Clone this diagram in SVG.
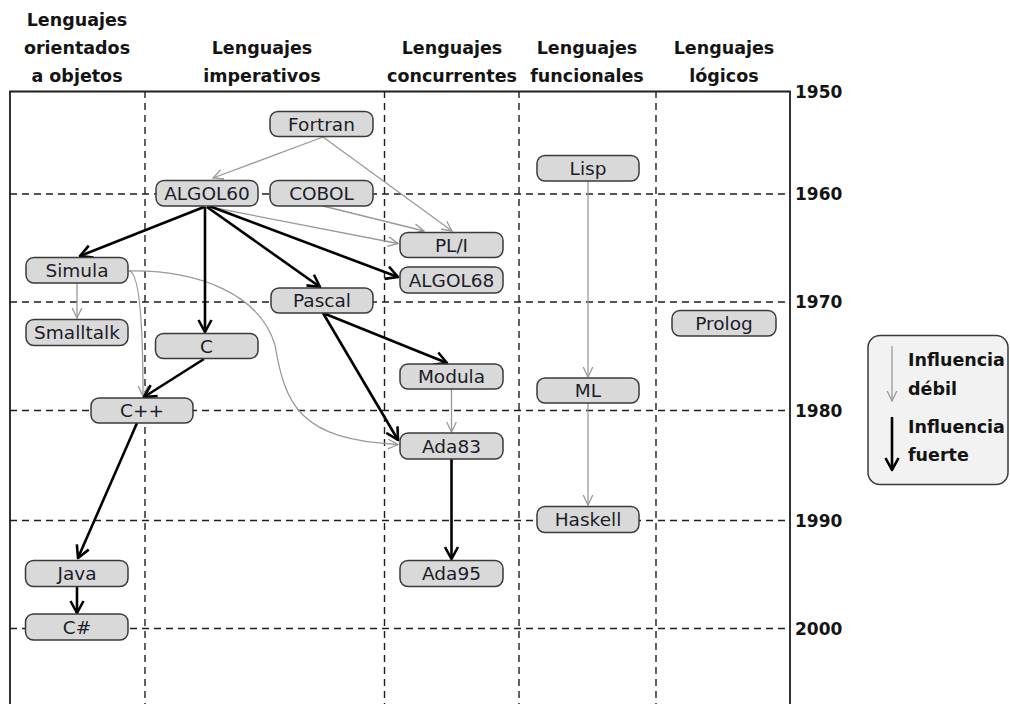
<svg xmlns="http://www.w3.org/2000/svg" width="1010" height="704" viewBox="0 0 1010 704">
  <style>
    .frame { stroke: #1e1e1e; stroke-width: 1.8; fill: none; }
    .grid { stroke: #1e1e1e; stroke-width: 1.4; stroke-dasharray: 7 5; fill: none; }
    .head { font-family: "DejaVu Sans", sans-serif; font-weight: bold; font-size: 17.5px; fill: #141414; text-anchor: middle; }
    .year { font-family: "DejaVu Sans", sans-serif; font-weight: bold; font-size: 17px; fill: #141414; }
    .box { fill: #d9d9d9; stroke: #3a3a3a; stroke-width: 1.5; }
    .lbl { font-family: "DejaVu Sans", sans-serif; font-size: 18.5px; fill: #1c1c2a; text-anchor: middle; }
    .weak { stroke: #999999; stroke-width: 1.3; fill: none; marker-end: url(#headWeak); }
    .strong { stroke: #000000; stroke-width: 2.6; fill: none; marker-end: url(#headStrong); }
    .legbox { fill: #f2f2f2; stroke: #3a3a3a; stroke-width: 1.5; }
    .legtxt { font-family: "DejaVu Sans", sans-serif; font-weight: bold; font-size: 17.5px; fill: #141414; }
  </style>
  <defs>
    <marker id="headWeak" markerUnits="userSpaceOnUse" viewBox="0 0 12 12" refX="11" refY="6" markerWidth="12" markerHeight="12" orient="auto">
      <path d="M1,1.2 L11,6 L1,10.8" fill="none" stroke="#999999" stroke-width="1.3"/>
    </marker>
    <marker id="headStrong" markerUnits="userSpaceOnUse" viewBox="0 0 16 16" refX="14" refY="8" markerWidth="16" markerHeight="16" orient="auto">
      <path d="M2,1.5 L14,8 L2,14.5" fill="none" stroke="#000000" stroke-width="2.6" stroke-linejoin="round"/>
    </marker>
  </defs>

  <rect width="1010" height="704" fill="#ffffff"/>

  <!-- column headings -->
  <g id="headings">
    <text class="head" x="77" y="26">Lenguajes</text>
    <text class="head" x="77" y="54">orientados</text>
    <text class="head" x="77" y="82">a objetos</text>
    <text class="head" x="262" y="54">Lenguajes</text>
    <text class="head" x="262" y="82">imperativos</text>
    <text class="head" x="452" y="54">Lenguajes</text>
    <text class="head" x="452" y="82">concurrentes</text>
    <text class="head" x="587" y="54">Lenguajes</text>
    <text class="head" x="587" y="82">funcionales</text>
    <text class="head" x="724" y="54">Lenguajes</text>
    <text class="head" x="724" y="82">lógicos</text>
  </g>

  <!-- grid: decades and paradigm columns -->
  <g id="grid">
    <line class="grid" x1="10" y1="194" x2="790" y2="194"/>
    <line class="grid" x1="10" y1="302" x2="790" y2="302"/>
    <line class="grid" x1="10" y1="410.5" x2="790" y2="410.5"/>
    <line class="grid" x1="10" y1="520.5" x2="790" y2="520.5"/>
    <line class="grid" x1="10" y1="628.5" x2="790" y2="628.5"/>
    <line class="grid" x1="145" y1="91" x2="145" y2="704"/>
    <line class="grid" x1="384.5" y1="91" x2="384.5" y2="704"/>
    <line class="grid" x1="519" y1="91" x2="519" y2="704"/>
    <line class="grid" x1="656" y1="91" x2="656" y2="704"/>
    <polyline class="frame" points="10,704 10,91.5 790,91.5 790,704"/>
  </g>

  <!-- decade labels -->
  <g id="years">
    <text class="year" x="795" y="97.5">1950</text>
    <text class="year" x="795" y="200">1960</text>
    <text class="year" x="795" y="308">1970</text>
    <text class="year" x="795" y="416.5">1980</text>
    <text class="year" x="795" y="526.5">1990</text>
    <text class="year" x="795" y="634.5">2000</text>
  </g>

  <!-- influence connectors -->
  <g id="connectors">
    <path class="weak" d="M323,137 L213,178"/>
    <path class="weak" d="M323,137 L452,231"/>
    <path class="weak" d="M323,206 L424,231"/>
    <path class="weak" d="M210,207 L398,243.5"/>
    <path class="weak" d="M77,283 L77,318"/>
    <path class="weak" d="M129,271 Q143,272 143,396"/>
    <path class="weak" d="M129,271 C200,270 260,295 275,345 C285,405 300,440 398,444.5"/>
    <path class="weak" d="M451.5,389 L451.5,432"/>
    <path class="weak" d="M588,181 L588,377"/>
    <path class="weak" d="M588,403 L588,505"/>

    <path class="strong" d="M204,207 L80,256"/>
    <path class="strong" d="M205,207 L205,332"/>
    <path class="strong" d="M207,207 L320,287"/>
    <path class="strong" d="M209,206 L398,277"/>
    <path class="strong" d="M323,313 L447,363"/>
    <path class="strong" d="M323,313 L398,440"/>
    <path class="strong" d="M204,359 L144,397"/>
    <path class="strong" d="M137,423 L78,558"/>
    <path class="strong" d="M77,587 L77,613"/>
    <path class="strong" d="M451.5,459 L451.5,559"/>
  </g>

  <!-- language nodes -->
  <g id="fortran"><rect class="box" x="270" y="111.5" width="103" height="25" rx="8"/><text class="lbl" x="321.5" y="130.5">Fortran</text></g>
  <g id="algol60"><rect class="box" x="156" y="180.5" width="102" height="25.5" rx="8"/><text class="lbl" x="207" y="199.8">ALGOL60</text></g>
  <g id="cobol"><rect class="box" x="270" y="180.5" width="103" height="25.5" rx="8"/><text class="lbl" x="321.5" y="199.8">COBOL</text></g>
  <g id="pl1"><rect class="box" x="400" y="232.5" width="103" height="25" rx="8"/><text class="lbl" x="451.5" y="251.5">PL/I</text></g>
  <g id="algol68"><rect class="box" x="400" y="267" width="103" height="26" rx="8"/><text class="lbl" x="451.5" y="286.5">ALGOL68</text></g>
  <g id="simula"><rect class="box" x="26" y="257.5" width="102" height="25.5" rx="8"/><text class="lbl" x="77" y="276.8">Simula</text></g>
  <g id="smalltalk"><rect class="box" x="26" y="319.5" width="102" height="26" rx="8"/><text class="lbl" x="77" y="339">Smalltalk</text></g>
  <g id="pascal"><rect class="box" x="271" y="288" width="102" height="25" rx="8"/><text class="lbl" x="322" y="307">Pascal</text></g>
  <g id="c"><rect class="box" x="155.5" y="333.5" width="102.5" height="25" rx="8"/><text class="lbl" x="206.5" y="352.5">C</text></g>
  <g id="cpp"><rect class="box" x="91" y="398" width="102" height="25" rx="8"/><text class="lbl" x="142" y="417">C++</text></g>
  <g id="modula"><rect class="box" x="400" y="364" width="103" height="25" rx="8"/><text class="lbl" x="451.5" y="383">Modula</text></g>
  <g id="ada83"><rect class="box" x="400" y="433" width="103" height="26" rx="8"/><text class="lbl" x="451.5" y="452.5">Ada83</text></g>
  <g id="ada95"><rect class="box" x="400" y="560.5" width="103" height="26" rx="8"/><text class="lbl" x="451.5" y="580">Ada95</text></g>
  <g id="lisp"><rect class="box" x="537" y="155.5" width="102" height="25.5" rx="8"/><text class="lbl" x="588" y="174.8">Lisp</text></g>
  <g id="ml"><rect class="box" x="537" y="378" width="102" height="25" rx="8"/><text class="lbl" x="588" y="397">ML</text></g>
  <g id="haskell"><rect class="box" x="537" y="506.5" width="102" height="26" rx="8"/><text class="lbl" x="588" y="526">Haskell</text></g>
  <g id="prolog"><rect class="box" x="672" y="310.5" width="104" height="25.5" rx="8"/><text class="lbl" x="724" y="329.8">Prolog</text></g>
  <g id="java"><rect class="box" x="25.5" y="560.5" width="102.5" height="26" rx="8"/><text class="lbl" x="77" y="580">Java</text></g>
  <g id="csharp"><rect class="box" x="25.5" y="614" width="102.5" height="26" rx="8"/><text class="lbl" x="77" y="633.5">C#</text></g>

  <!-- key -->
  <g id="legend">
    <rect class="legbox" x="868" y="335.5" width="140" height="149" rx="12"/>
    <line x1="892" y1="346" x2="892" y2="401" stroke="#999999" stroke-width="1.3" marker-end="url(#headWeak)"/>
    <line x1="892" y1="417" x2="892" y2="470" stroke="#000000" stroke-width="2.6" marker-end="url(#headStrong)"/>
    <text class="legtxt" x="908" y="366">Influencia</text>
    <text class="legtxt" x="908" y="395">débil</text>
    <text class="legtxt" x="908" y="433">Influencia</text>
    <text class="legtxt" x="908" y="461">fuerte</text>
  </g>
</svg>
